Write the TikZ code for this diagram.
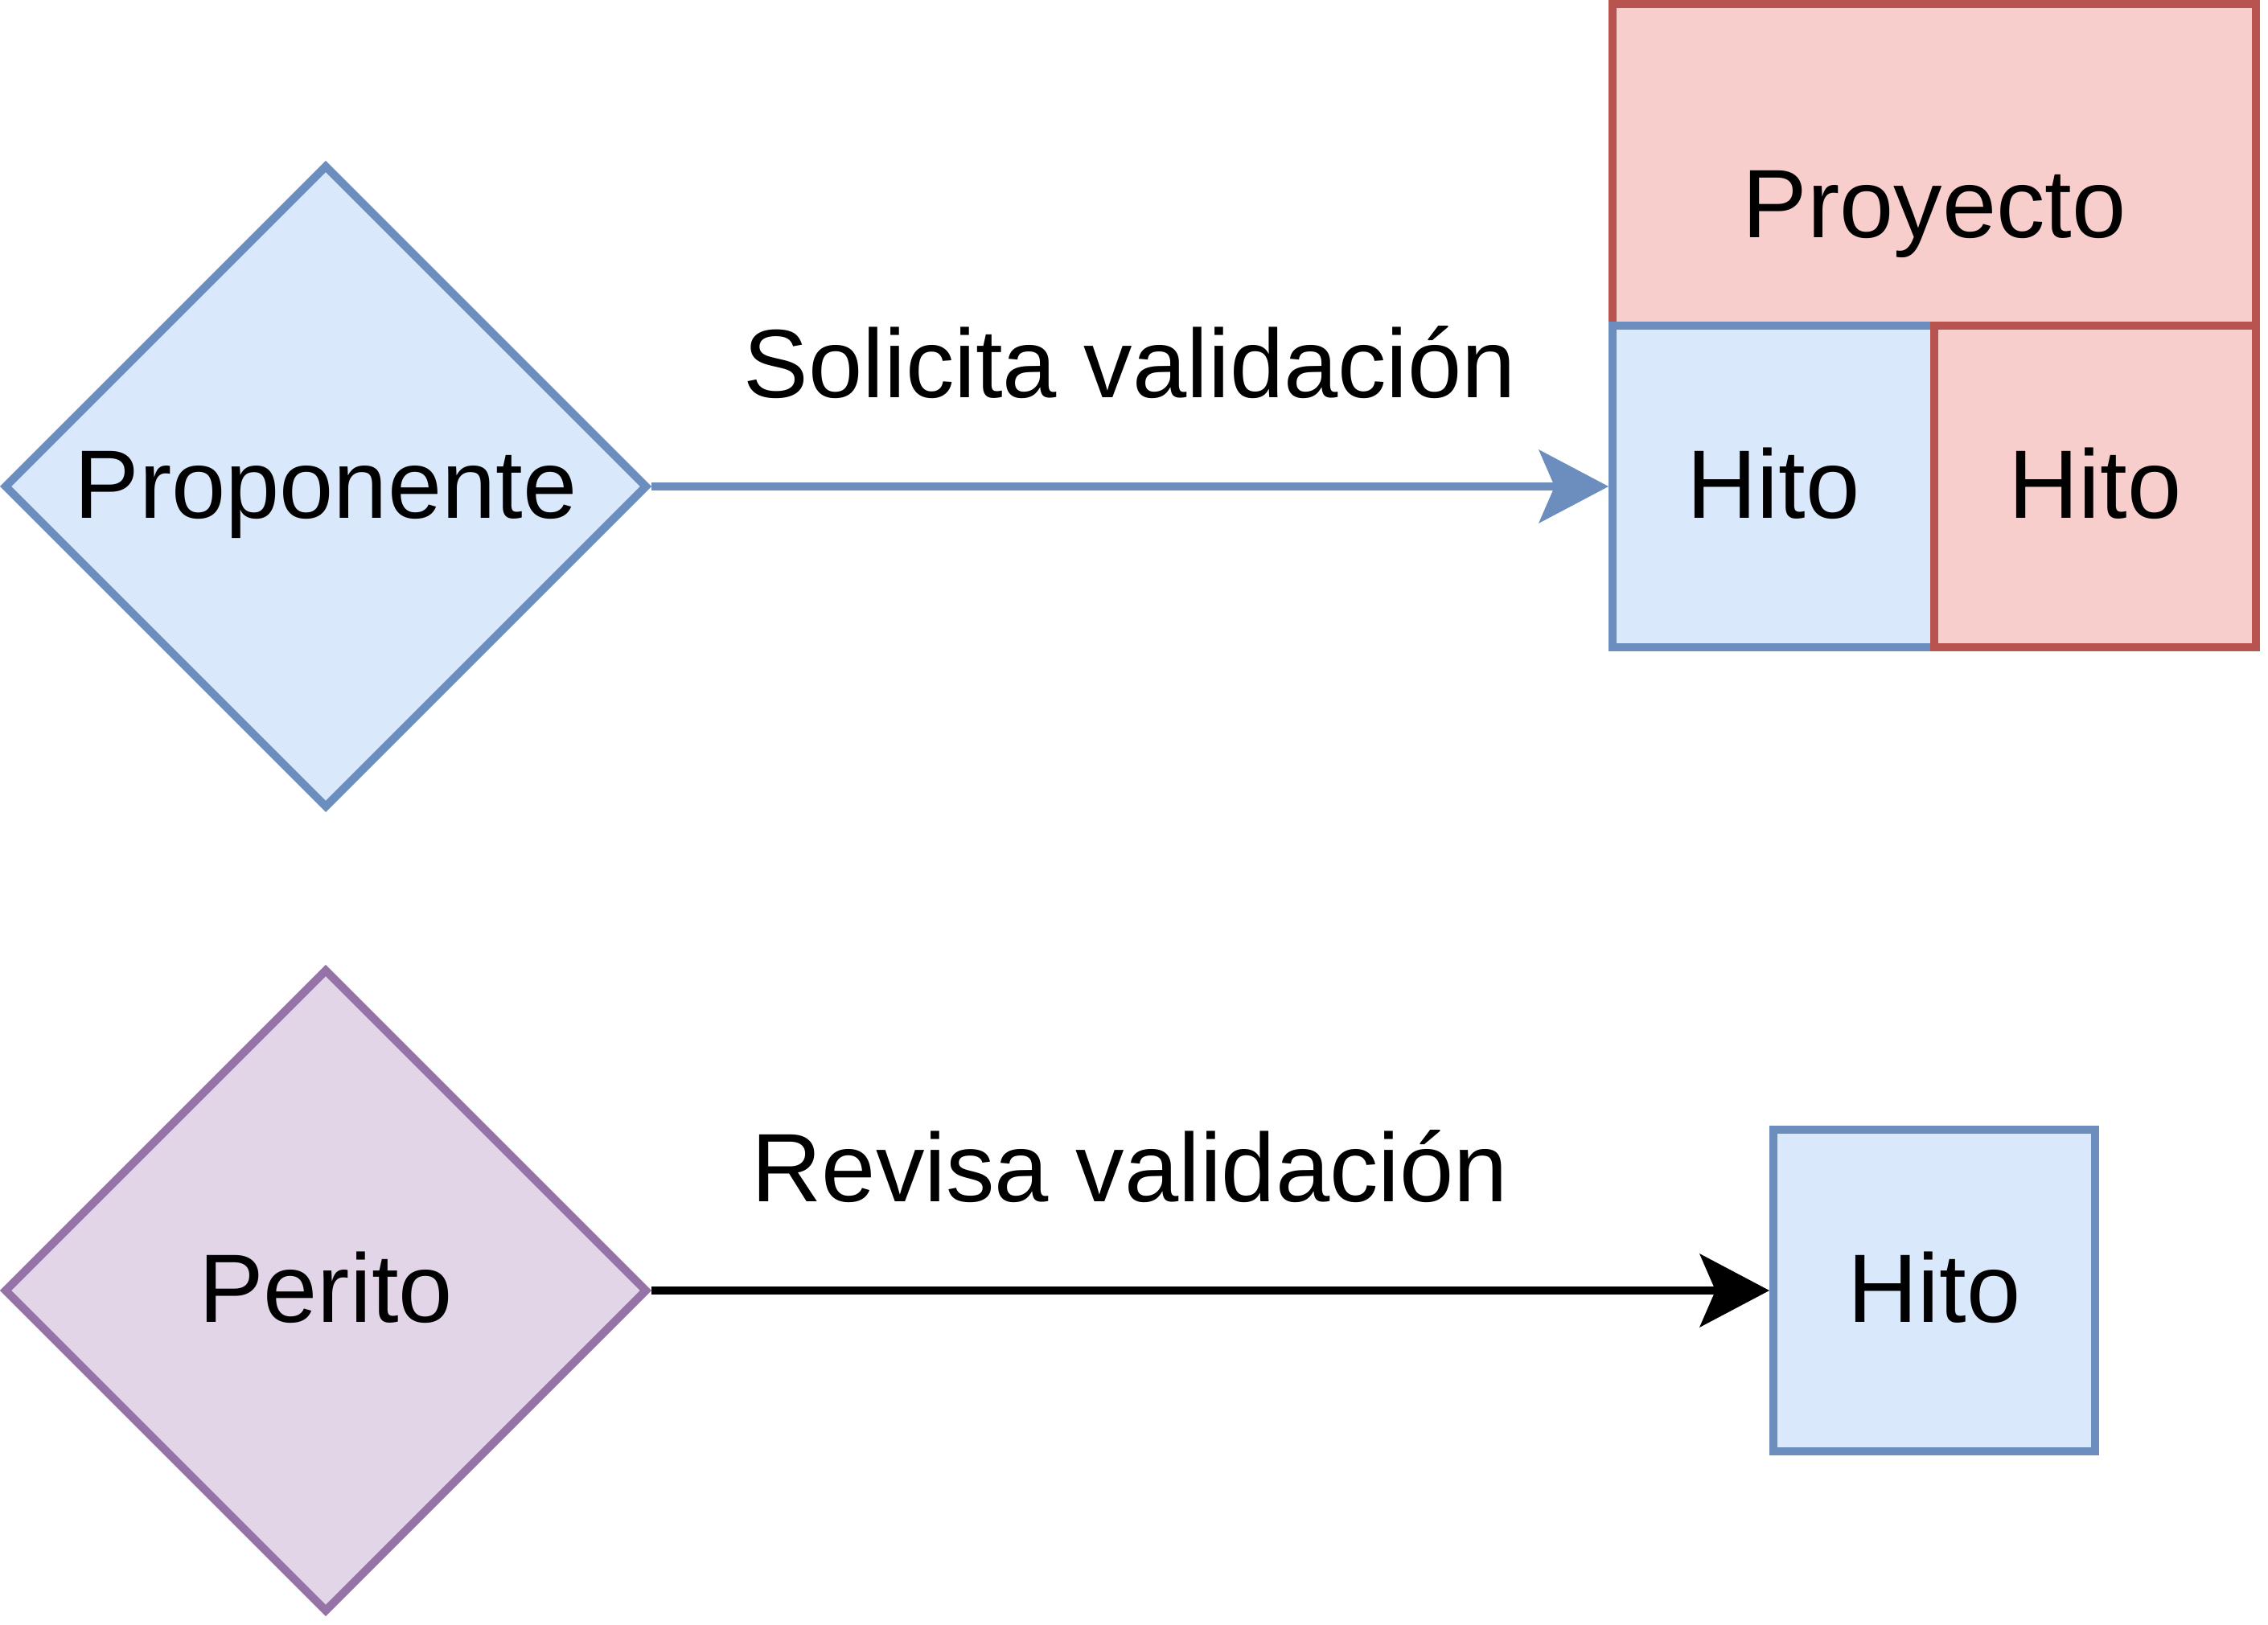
\documentclass[tikz,border=0pt]{standalone}
\usepackage{fontspec}
\setmainfont{Liberation Sans}
\usetikzlibrary{shapes.geometric,arrows.meta}

\definecolor{bluefill}{HTML}{DAE8FC}
\definecolor{blueline}{HTML}{6C8EBF}
\definecolor{redfill}{HTML}{F8CECC}
\definecolor{redline}{HTML}{B85450}
\definecolor{purplefill}{HTML}{E1D5E7}
\definecolor{purpleline}{HTML}{9673A6}

\tikzset{
  actor/.style={diamond, draw, line width=2.85pt, aspect=1, inner sep=0pt,
    minimum width=8cm, minimum height=8cm},
  hito/.style={rectangle, draw, line width=2.85pt, inner sep=0pt,
    minimum width=4cm, minimum height=4cm},
  link/.style={line width=2.85pt,
    -{Stealth[length=8.7mm, width=9.2mm, inset=2mm, line width=0pt]}},
}

\begin{document}
\begin{tikzpicture}[font=\fontsize{34.4}{41}\selectfont,
    every node/.append style={text height=31pt, text depth=8.6pt}]
    \useasboundingbox (0,0) rectangle (28.2,20.2);

    \node[actor, color=blueline, fill=bluefill, text=black] (proponente) at (4.05,14.15) {Proponente};
    \node[actor, color=purpleline, fill=purplefill, text=black] (perito) at (4.05,4.15) {Perito};

    \node[hito, color=redline, fill=redfill, text=black, minimum width=8cm,
      text height=2.12cm] (proyecto) at (24.05,18.15) {Proyecto};
    \node[hito, color=blueline, fill=bluefill, text=black] (hitoa) at (22.05,14.15) {Hito};
    \node[hito, color=redline, fill=redfill, text=black] (hitob) at (26.05,14.15) {Hito};

    \node[hito, color=blueline, fill=bluefill, text=black] (hitoc) at (24.05,4.15) {Hito};

    \node[anchor=base] (solicita) at (14.05,15.25) {Solicita validación};
    \node[anchor=base] (revisa) at (14.05,5.25) {Revisa validación};

    \draw[link, blueline] (proponente.east) -- (hitoa.west);
    \draw[link, black] (perito.east) -- (hitoc.west);
\end{tikzpicture}
\end{document}
